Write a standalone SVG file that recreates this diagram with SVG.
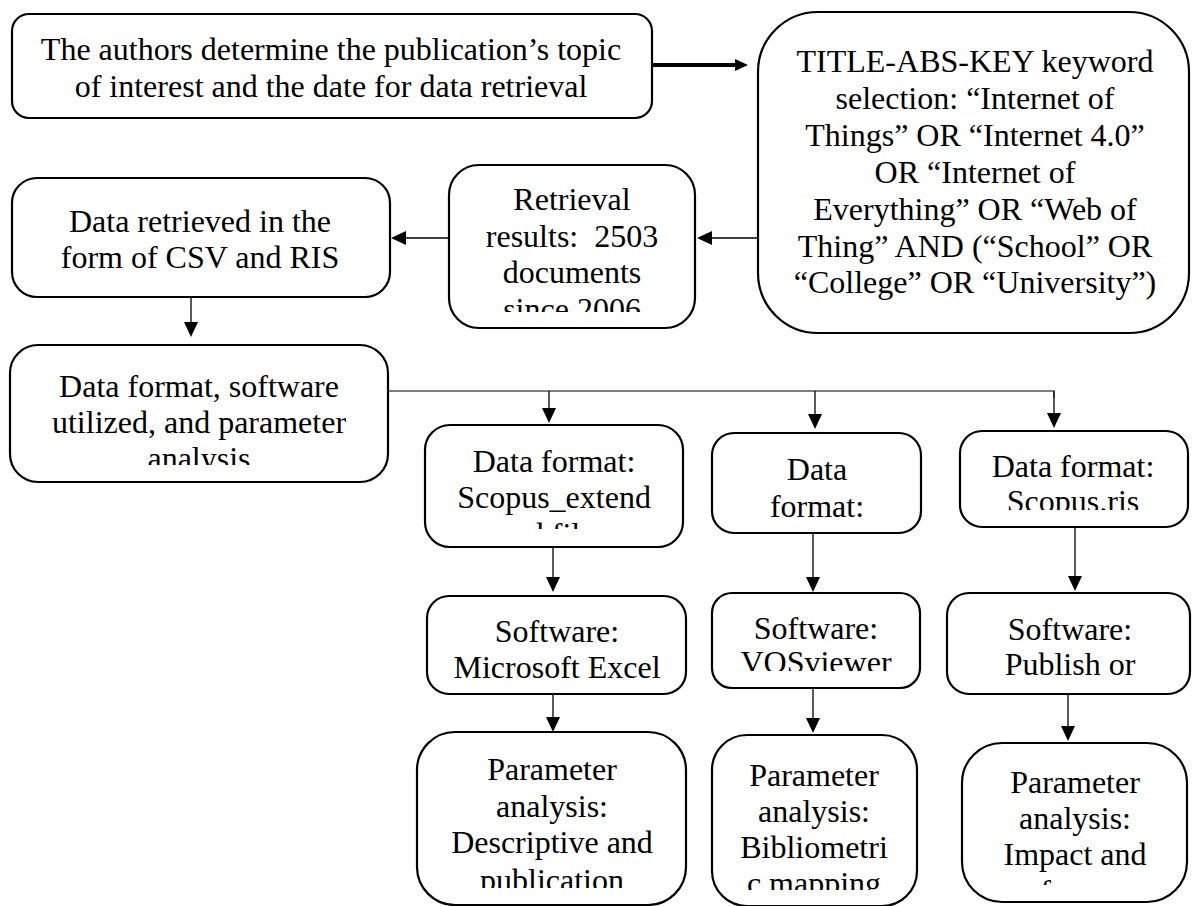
<svg xmlns="http://www.w3.org/2000/svg" width="1192" height="906" viewBox="0 0 1192 906">
<style>
.box{fill:#fff;stroke:#000;stroke-width:2.2}
.t{font-family:"Liberation Serif","Times New Roman",serif;font-size:32px;fill:#000;text-anchor:middle}
.c{fill:none;stroke:#000;stroke-width:1.3}
.bus{fill:none;stroke:#555;stroke-width:1.5}
.thick{fill:none;stroke:#000;stroke-width:4}
</style>
<defs>
<marker id="ah" markerUnits="userSpaceOnUse" markerWidth="15" markerHeight="14" refX="0" refY="7" orient="auto"><path d="M0,0 L15,7 L0,14 z" fill="#000"/></marker>
<marker id="ahk" markerUnits="userSpaceOnUse" markerWidth="13" markerHeight="12" refX="0" refY="6" orient="auto"><path d="M0,0 L13,6 L0,12 z" fill="#000"/></marker>
<clipPath id="cpRet"><rect x="449" y="160" width="246" height="152"/></clipPath>
<clipPath id="cpDF"><rect x="10" y="345" width="380" height="120"/></clipPath>
<clipPath id="cpSc"><rect x="425" y="425" width="258" height="104"/></clipPath>
<clipPath id="cpRis"><rect x="960" y="431" width="228" height="79"/></clipPath>
<clipPath id="cpVos"><rect x="712" y="593" width="208" height="78"/></clipPath>
<clipPath id="cpDes"><rect x="417" y="732" width="269" height="156"/></clipPath>
<clipPath id="cpBib"><rect x="712" y="735" width="205" height="155"/></clipPath>
<clipPath id="cpImp"><rect x="962" y="743" width="225" height="142"/></clipPath>
</defs>

<g id="connectors">
<line class="thick" x1="652" y1="65" x2="735" y2="65" marker-end="url(#ahk)"/>
<line class="c" x1="758" y1="238" x2="712" y2="238" marker-end="url(#ah)"/>
<line class="c" x1="449" y1="238" x2="406" y2="238" marker-end="url(#ah)"/>
<line class="c" x1="191" y1="297" x2="191" y2="322" marker-end="url(#ah)"/>
<polyline class="bus" points="388,391 1054,391 1054,398"/>
<line class="c" x1="1054" y1="391" x2="1054" y2="413" marker-end="url(#ah)"/>
<line class="c" x1="549" y1="391" x2="549" y2="408" marker-end="url(#ah)"/>
<line class="c" x1="815" y1="391" x2="815" y2="414" marker-end="url(#ah)"/>
<line class="c" x1="553" y1="547" x2="553" y2="577" marker-end="url(#ah)"/>
<line class="c" x1="813" y1="533" x2="813" y2="577" marker-end="url(#ah)"/>
<line class="c" x1="1075" y1="527" x2="1075" y2="576" marker-end="url(#ah)"/>
<line class="c" x1="553" y1="694" x2="553" y2="717" marker-end="url(#ah)"/>
<line class="c" x1="813" y1="688" x2="813" y2="718" marker-end="url(#ah)"/>
<line class="c" x1="1068" y1="694" x2="1068" y2="726" marker-end="url(#ah)"/>
</g>

<g id="n-topic">
<rect class="box" x="12" y="14" width="640" height="104" rx="17"/>
<text class="t" x="331" y="60">The authors determine the publication’s topic</text>
<text class="t" x="331" y="97">of interest and the date for data retrieval</text>
</g>

<g id="n-keyword">
<rect class="box" x="758" y="12" width="431" height="321" rx="60"/>
<text class="t" x="975" y="72">TITLE-ABS-KEY keyword</text>
<text class="t" x="975" y="109">selection: “Internet of</text>
<text class="t" x="975" y="146">Things” OR “Internet 4.0”</text>
<text class="t" x="975" y="183">OR “Internet of</text>
<text class="t" x="975" y="220">Everything” OR “Web of</text>
<text class="t" x="975" y="257">Thing” AND (“School” OR</text>
<text class="t" x="975" y="293">“College” OR “University”)</text>
</g>

<g id="n-retrieval">
<rect class="box" x="449" y="165" width="246" height="163" rx="30"/>
<g clip-path="url(#cpRet)">
<text class="t" x="572" y="210">Retrieval</text>
<text class="t" x="572" y="247" xml:space="preserve">results:  2503</text>
<text class="t" x="572" y="283">documents</text>
<text class="t" x="572" y="320">since 2006</text>
</g>
</g>

<g id="n-retrieved">
<rect class="box" x="12" y="178" width="378" height="119" rx="25"/>
<text class="t" x="200" y="232">Data retrieved in the</text>
<text class="t" x="200" y="268">form of CSV and RIS</text>
</g>

<g id="n-format">
<rect class="box" x="10" y="345" width="378" height="137" rx="28"/>
<g clip-path="url(#cpDF)">
<text class="t" x="199" y="397">Data format, software</text>
<text class="t" x="199" y="433">utilized, and parameter</text>
<text class="t" x="199" y="469">analysis</text>
</g>
</g>

<g id="n-df-excel">
<rect class="box" x="425" y="425" width="258" height="122" rx="25"/>
<g clip-path="url(#cpSc)">
<text class="t" x="554" y="472">Data format:</text>
<text class="t" x="554" y="508">Scopus_extend</text>
<text class="t" x="554" y="545">ed file</text>
</g>
</g>

<g id="n-df-vos">
<rect class="box" x="712" y="433" width="209" height="100" rx="22"/>
<text class="t" x="817" y="480">Data</text>
<text class="t" x="817" y="517">format:</text>
</g>

<g id="n-df-ris">
<rect class="box" x="960" y="431" width="228" height="96" rx="22"/>
<g clip-path="url(#cpRis)">
<text class="t" x="1073" y="477">Data format:</text>
<text class="t" x="1073" y="512">Scopus.ris</text>
</g>
</g>

<g id="n-sw-excel">
<rect class="box" x="427" y="596" width="259" height="98" rx="22"/>
<text class="t" x="557" y="642">Software:</text>
<text class="t" x="557" y="678">Microsoft Excel</text>
</g>

<g id="n-sw-vos">
<rect class="box" x="712" y="593" width="208" height="95" rx="20"/>
<g clip-path="url(#cpVos)">
<text class="t" x="816" y="639">Software:</text>
<text class="t" x="816" y="673">VOSviewer</text>
</g>
</g>

<g id="n-sw-pop">
<rect class="box" x="947" y="593" width="243" height="101" rx="22"/>
<text class="t" x="1070" y="640">Software:</text>
<text class="t" x="1070" y="675">Publish or</text>
</g>

<g id="n-pa-desc">
<rect class="box" x="417" y="732" width="269" height="173" rx="38"/>
<g clip-path="url(#cpDes)">
<text class="t" x="552" y="780">Parameter</text>
<text class="t" x="552" y="817">analysis:</text>
<text class="t" x="552" y="853">Descriptive and</text>
<text class="t" x="552" y="891">publication</text>
</g>
</g>

<g id="n-pa-biblio">
<rect class="box" x="712" y="735" width="205" height="171" rx="35"/>
<g clip-path="url(#cpBib)">
<text class="t" x="814" y="786">Parameter</text>
<text class="t" x="814" y="822">analysis:</text>
<text class="t" x="814" y="858">Bibliometri</text>
<text class="t" x="814" y="894">c mapping</text>
</g>
</g>

<g id="n-pa-impact">
<rect class="box" x="962" y="743" width="225" height="159" rx="40"/>
<g clip-path="url(#cpImp)">
<text class="t" x="1075" y="793">Parameter</text>
<text class="t" x="1075" y="829">analysis:</text>
<text class="t" x="1075" y="865">Impact and</text>
<text class="t" x="1075" y="902">focus</text>
</g>
</g>
</svg>
